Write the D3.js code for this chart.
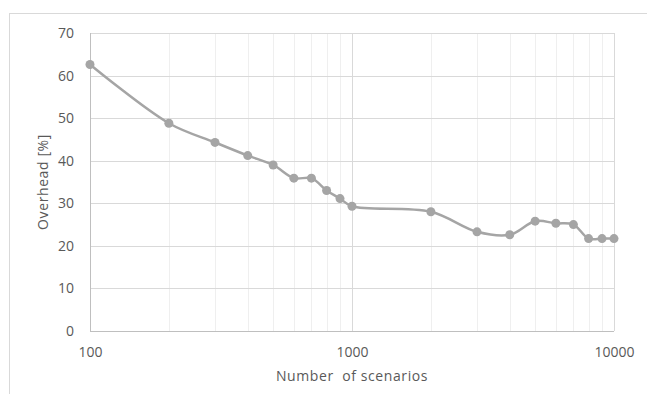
<!DOCTYPE html>
<html>
<head>
<meta charset="utf-8">
<script src="https://cdn.jsdelivr.net/npm/d3@7/dist/d3.min.js"></script>
<style>
  html, body { margin: 0; padding: 0; background: #fff; }
  svg text { font-family: "Open Sans", "Liberation Sans", sans-serif; fill: #595959; }
</style>
</head>
<body>
<svg id="chart" width="647" height="394"></svg>
<script>
// Scenario counts and measured overhead (%)
const scenarios = [100, 200, 300, 400, 500, 600, 700, 800, 900, 1000,
                   2000, 3000, 4000, 5000, 6000, 7000, 8000, 9000, 10000];
const overhead  = [62.6, 48.8, 44.3, 41.2, 39.0, 35.9, 35.9, 33.0, 31.1, 29.3,
                   28.0, 23.3, 22.6, 25.8, 25.3, 25.0, 21.7, 21.7, 21.7];
const xTickLabels = [100, 1000, 10000];
const yTickLabels = [0, 10, 20, 30, 40, 50, 60, 70];

const svg = d3.select("#chart");
const W = 647, H = 394;
const m = { left: 90, right: 33, top: 33, bottom: 63 };

// outer chart frame (runs past the right and bottom edges)
svg.append("rect")
  .attr("x", 9.5).attr("y", 13.5)
  .attr("width", W + 20).attr("height", H + 20)
  .attr("fill", "#fff").attr("stroke", "#d9d9d9").attr("stroke-width", 1);

const x = d3.scaleLog().domain([100, 10000]).range([m.left, W - m.right]);
const y = d3.scaleLinear().domain([0, 70]).range([H - m.bottom, m.top]);

const g = svg.append("g");

// minor vertical gridlines
const minor = [];
[100, 1000].forEach(d => { for (let k = 2; k <= 9; k++) minor.push(d * k); });
g.selectAll(".vminor").data(minor).enter().append("line")
  .attr("x1", d => Math.round(x(d)) + 0.5).attr("x2", d => Math.round(x(d)) + 0.5)
  .attr("y1", y(70)).attr("y2", y(0))
  .attr("stroke", "#efefef").attr("stroke-width", 1);

// major vertical gridlines
g.selectAll(".vmajor").data(xTickLabels).enter().append("line")
  .attr("x1", d => Math.round(x(d)) + 0.5).attr("x2", d => Math.round(x(d)) + 0.5)
  .attr("y1", y(70)).attr("y2", y(0))
  .attr("stroke", "#d9d9d9").attr("stroke-width", 1);

// horizontal gridlines
g.selectAll(".hgrid").data(yTickLabels).enter().append("line")
  .attr("x1", x(100)).attr("x2", x(10000))
  .attr("y1", d => Math.round(y(d)) + 0.5).attr("y2", d => Math.round(y(d)) + 0.5)
  .attr("stroke", "#d9d9d9").attr("stroke-width", 1);

// axis lines
g.append("line")
  .attr("x1", Math.round(x(100)) + 0.5).attr("x2", Math.round(x(100)) + 0.5)
  .attr("y1", y(70)).attr("y2", y(0))
  .attr("stroke", "#bfbfbf");
g.append("line")
  .attr("x1", x(100)).attr("x2", x(10000))
  .attr("y1", Math.round(y(0)) + 0.5).attr("y2", Math.round(y(0)) + 0.5)
  .attr("stroke", "#bfbfbf");

// y tick labels
const yAxis = d3.axisLeft(y).tickValues(yTickLabels).tickSize(0).tickPadding(16).tickFormat(d3.format("d"));
const ya = svg.append("g").attr("transform", `translate(${x(100)},0)`).call(yAxis);
ya.select(".domain").remove();
ya.selectAll("text").style("font-size", "14px").attr("fill", "#595959");

// x tick labels
const xAxis = d3.axisBottom(x).tickValues(xTickLabels).tickSize(0).tickPadding(16).tickFormat(d3.format("d"));
const xa = svg.append("g").attr("transform", `translate(0,${y(0)})`).call(xAxis);
xa.select(".domain").remove();
xa.selectAll("text").style("font-size", "14px").attr("fill", "#595959");

// series line (smoothed)
const pts = scenarios.map((s, i) => [x(s), y(overhead[i])]);
svg.append("path")
  .attr("d", d3.line().curve(d3.curveCatmullRom.alpha(0.5))(pts))
  .attr("fill", "none").attr("stroke", "#a5a5a5").attr("stroke-width", 2.5)
  .attr("stroke-linejoin", "round");

svg.selectAll(".pt").data(pts).enter().append("circle")
  .attr("cx", d => d[0]).attr("cy", d => d[1]).attr("r", 4.5)
  .attr("fill", "#a5a5a5");

// axis titles
svg.append("text")
  .attr("x", x(1000)).attr("y", 381)
  .attr("text-anchor", "middle").style("font-size", "14px")
  .style("letter-spacing", "0.6px").style("white-space", "pre")
  .text("Number  of scenarios");
svg.append("text")
  .attr("transform", `translate(48,${y(35)}) rotate(-90)`)
  .attr("text-anchor", "middle").style("font-size", "14px")
  .style("letter-spacing", "0.6px")
  .text("Overhead [%]");
</script>
</body>
</html>
